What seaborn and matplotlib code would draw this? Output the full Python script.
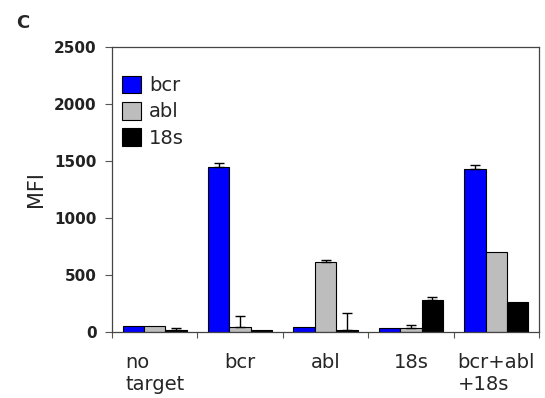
import numpy as np
import pandas as pd
import matplotlib
matplotlib.use("Agg")
import matplotlib.pyplot as plt
import seaborn as sns

# values
categories = ["no\ntarget", "bcr", "abl", "18s", "bcr+abl\n+18s"]
probes = ["bcr", "abl", "18s"]
bcr_vals = [55, 1450, 44, 38, 1432]
abl_vals = [55, 44, 615, 38, 697]
s18_vals = [20, 15, 15, 280, 265]
bcr_err = [0, 35, 0, 0, 35]
abl_err = [0, 93, 18, 26, 0]
s18_err = [12, 0, 151, 23, 0]
colors = ["#0000ff", "#bdbdbd", "#000000"]

df = pd.DataFrame({
    "target": categories * 3,
    "probe": [p for p in probes for _ in categories],
    "MFI": bcr_vals + abl_vals + s18_vals,
})
errs = [bcr_err, abl_err, s18_err]

sns.set_style("white")
plt.rcParams["font.family"] = ["DejaVu Sans"]

fig = plt.figure(figsize=(5.45, 3.98), dpi=100)
ax = fig.add_axes([0.2055, 0.166, 0.7835, 0.716])

sns.barplot(data=df, x="target", y="MFI", hue="probe", order=categories,
            hue_order=probes, palette=colors, width=0.75, saturation=1,
            edgecolor="black", linewidth=0.8, errorbar=None, ax=ax)

# one-sided error bars on top of the bars
for cont, err in zip(ax.containers, errs):
    for bar, e in zip(cont, err):
        if e > 0:
            x = bar.get_x() + bar.get_width() / 2
            h = bar.get_height()
            ax.errorbar(x, h, yerr=[[0], [e]], fmt="none", ecolor="black",
                        elinewidth=1, capsize=3.6, capthick=1)

ax.set_ylim(0, 2500)
ax.set_xlim(-0.5, 4.5)
ax.set_yticks(np.arange(0, 2501, 500))
ax.set_ylabel("MFI", fontsize=15, labelpad=6)
ax.set_xlabel("")
ax.tick_params(axis="y", labelsize=11, length=5, width=0.8, color="#555555",
               direction="out", left=True, pad=6)
ax.tick_params(axis="x", labelsize=14, length=0, pad=15)
ax.set_xticks(np.arange(-0.5, 4.6, 1), minor=True)
ax.tick_params(axis="x", which="minor", length=4, width=0.8, color="#555555",
               direction="out", bottom=True)
for lab in ax.get_yticklabels():
    lab.set_fontweight("bold")
    lab.set_color("#222222")
for s in ax.spines.values():
    s.set_color("#444444")
    s.set_linewidth(0.9)
for lab in ax.get_xticklabels():
    lab.set_ha("center")
    lab.set_multialignment("left")

ax.legend(loc="upper left", frameon=False, fontsize=14, handlelength=1.0,
          handleheight=1.0, handletextpad=0.4, labelspacing=0.35,
          borderpad=0, borderaxespad=0, bbox_to_anchor=(10 / 427, 1 - 29 / 285))

fig.text(0.03, 0.93, "C", fontsize=13, fontweight="bold")

fig.savefig("out.png", dpi=100)
